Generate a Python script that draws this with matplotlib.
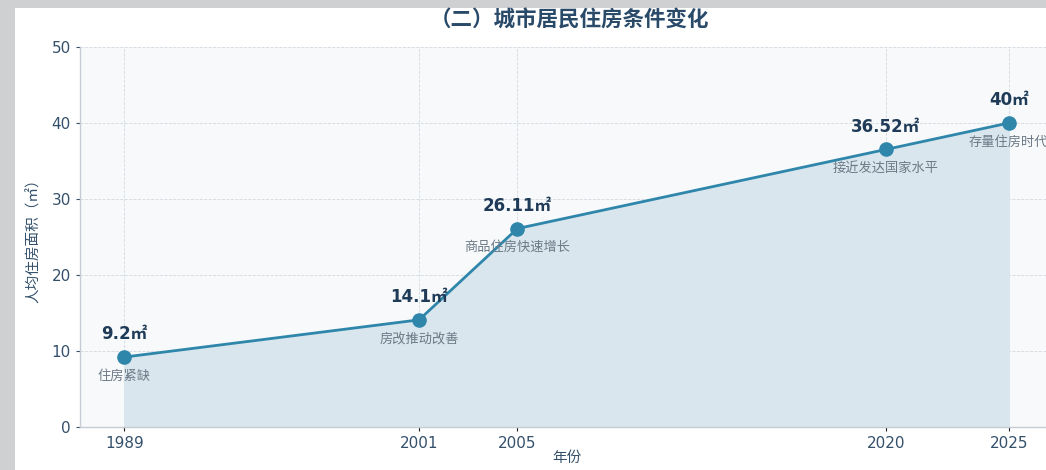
"""
City residents' housing-area chart (per-capita floor space, 1989-2025).

Writes out.png (1046x470) in the working directory.
"""

import matplotlib

matplotlib.use("Agg")

import matplotlib.pyplot as plt
from matplotlib.patches import Rectangle

# ---------------------------------------------------------------------------
# Data
# ---------------------------------------------------------------------------
YEARS = [1989, 2001, 2005, 2020, 2025]
AREA = [9.2, 14.1, 26.11, 36.52, 40]
VALUE_LABELS = ["9.2㎡", "14.1㎡", "26.11㎡", "36.52㎡", "40㎡"]
NOTES = ["住房紧缺", "房改推动改善", "商品住房快速增长", "接近发达国家水平", "存量住房时代"]
Y_TICKS = [0, 10, 20, 30, 40, 50]

TITLE = "（二）城市居民住房条件变化"
X_LABEL = "年份"
Y_LABEL = "人均住房面积（㎡）"

# ---------------------------------------------------------------------------
# Style
# ---------------------------------------------------------------------------
W, H, DPI = 1046, 470, 100
LINE = "#2f86ab"
FILL = "#d9e6ee"
AX_BG = "#f7f9fb"
DARK = "#1f3b57"
TICK_C = "#34506b"
NOTE_C = "#6c7a86"
GRID_C = "#d3d9df"
FAMILY = ["DejaVu Sans", "Noto Sans CJK SC"]
CJK = ["Noto Sans CJK SC", "DejaVu Sans"]

plt.rcParams["font.family"] = FAMILY


def main() -> None:
    fig = plt.figure(figsize=(W / DPI, H / DPI), dpi=DPI, facecolor="#cfd0d2")
    # white page (screenshot has a grey strip on the left and top)
    fig.add_artist(Rectangle((15 / W, 0), 1, 1 - 8 / H, transform=fig.transFigure,
                             facecolor="white", edgecolor="none", zorder=0))

    ax = fig.add_axes([80 / W, 1 - 427 / H, 973 / W, 380 / H])
    ax.set_facecolor(AX_BG)

    ax.fill_between(YEARS, AREA, 0, color=FILL, zorder=1)
    ax.plot(YEARS, AREA, color=LINE, linewidth=2, marker="o", markersize=9.5,
            zorder=3)

    for x, y, lab, note in zip(YEARS, AREA, VALUE_LABELS, NOTES):
        ax.annotate(lab, (x, y), xytext=(0, 10), textcoords="offset points",
                    ha="center", va="bottom", fontsize=12, fontweight="bold",
                    color=DARK, family=FAMILY, zorder=4)
        ax.annotate(note, (x, y), xytext=(0, -9), textcoords="offset points",
                    ha="center", va="top", fontsize=9.5, color=NOTE_C,
                    family=CJK, zorder=4)

    ax.set_xlim(1987.2, 2026.8)
    ax.set_ylim(0, 50)
    ax.set_xticks(YEARS)
    ax.set_yticks(Y_TICKS)
    ax.tick_params(axis="both", labelsize=11, colors=TICK_C, length=3,
                   width=0.8)
    ax.tick_params(axis="x", colors="#222222", labelcolor=TICK_C)
    ax.grid(True, linestyle="--", linewidth=0.6, color=GRID_C, zorder=0)
    ax.set_axisbelow(True)

    for side in ("top", "right"):
        ax.spines[side].set_visible(False)
    for side in ("left", "bottom"):
        ax.spines[side].set_color("#c5ccd4")
        ax.spines[side].set_linewidth(1.0)

    ax.set_xlabel(X_LABEL, family=CJK, fontsize=10.5, color=TICK_C, labelpad=0)
    ax.set_ylabel(Y_LABEL, family=CJK, fontsize=10.5, color=TICK_C, labelpad=8)

    fig.text(570 / W, 1 - 20 / H, TITLE, ha="center", va="center",
             fontsize=15.5, fontweight="bold", color="#2a4a6a", family=CJK)

    fig.savefig("out.png", dpi=DPI, facecolor=fig.get_facecolor())
    plt.close(fig)


if __name__ == "__main__":
    main()
